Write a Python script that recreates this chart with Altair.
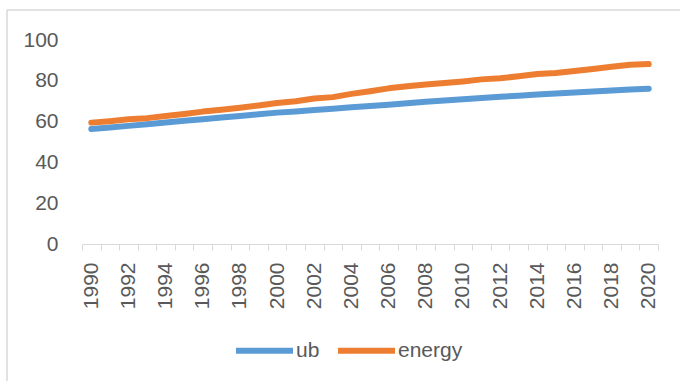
import altair as alt
import pandas as pd

years = [str(y) for y in range(1990, 2021)]
ub = [56.4, 57.1, 57.9, 58.7, 59.6, 60.4, 61.2, 62.0, 62.8, 63.6, 64.4,
      65.0, 65.7, 66.3, 67.0, 67.6, 68.3, 69.0, 69.7, 70.4, 71.0,
      71.6, 72.2, 72.7, 73.3, 73.8, 74.3, 74.8, 75.3, 75.7, 76.1]
energy = [59.5, 60.2, 61.1, 61.7, 62.7, 63.7, 64.9, 65.8, 66.8, 67.9, 69.1,
          70.0, 71.3, 72.0, 73.6, 74.9, 76.3, 77.3, 78.2, 78.9, 79.7,
          80.7, 81.3, 82.2, 83.3, 83.8, 84.8, 85.8, 86.9, 87.9, 88.2]
series_names = ["ub", "energy"]
series_colors = ["#5B9BD5", "#ED7D31"]
y_ticks = [0, 20, 40, 60, 80, 100]

df = pd.DataFrame({
    "year": years * 2,
    "value": ub + energy,
    "series": ["ub"] * len(years) + ["energy"] * len(years),
})

FONT = "Liberation Sans"
GRAY = "#595959"
LINE = "#d9d9d9"

lines = alt.Chart(df).mark_line(strokeWidth=6, strokeCap="round", strokeJoin="round").encode(
    x=alt.X("year:O", bandPosition=0.5,
            scale=alt.Scale(type="band", paddingInner=0, paddingOuter=0),
            axis=alt.Axis(title=None, labelAngle=-90, labelFont=FONT, labelFontSize=21,
                          labelColor=GRAY, domainColor=LINE, domainWidth=1,
                          tickColor=LINE, tickSize=6, tickWidth=1, tickBand="extent",
                          labelPadding=12, labelExpr="parseInt(datum.value) % 2 == 0 ? datum.label : ''")),
    y=alt.Y("value:Q", scale=alt.Scale(domain=[0, 100], nice=False),
            axis=alt.Axis(title=None, values=y_ticks, grid=False, domain=False, ticks=False,
                          labelFont=FONT, labelFontSize=21, labelColor=GRAY, labelPadding=24)),
    color=alt.Color("series:N", scale=alt.Scale(domain=series_names, range=series_colors),
                    legend=alt.Legend(title=None, orient="none", legendX=151, legendY=279,
                                      direction="horizontal", symbolType="stroke",
                                      symbolSize=3249, symbolStrokeWidth=6,
                                      labelFont=FONT, labelFontSize=21, labelColor=GRAY,
                                      labelOffset=0, columnPadding=6)),
    order=alt.Order("year:O"),
)

frame_df = pd.DataFrame({"k": [0]})
frame_left = alt.Chart(frame_df).mark_rule(color=LINE, strokeWidth=1.5).encode(
    x=alt.value(-75), y=alt.value(-30), y2=alt.value(345))
frame_top = alt.Chart(frame_df).mark_rule(color=LINE, strokeWidth=1.5).encode(
    x=alt.value(-75), x2=alt.value(600), y=alt.value(-30))

chart = alt.layer(frame_left, frame_top, lines).properties(
    width=576, height=204,
    autosize=alt.AutoSizeParams(type="none"),
    padding={"left": 82, "top": 40, "right": 22, "bottom": 137},
    background="white",
).configure_view(stroke=None)

chart.save("out.html", embed_options={"renderer": "svg", "actions": False})
